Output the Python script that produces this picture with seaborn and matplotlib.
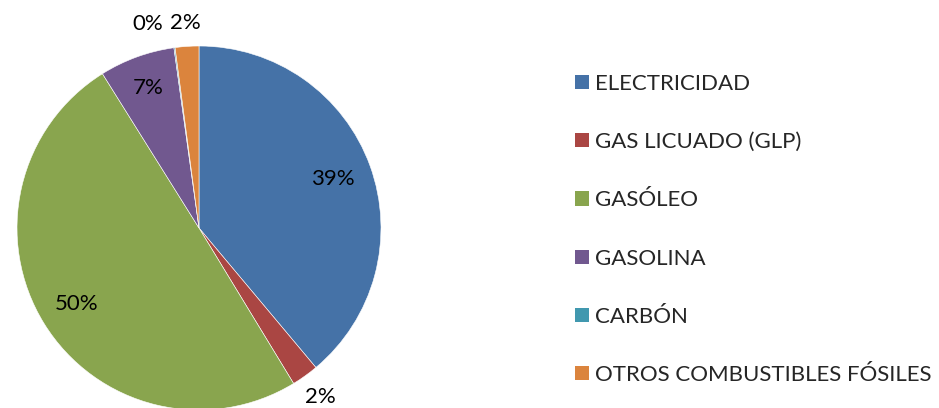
import numpy as np
import seaborn as sns
import matplotlib.pyplot as plt
from matplotlib.patches import Patch

sns.set_style("white")
plt.rcParams['font.family'] = ['Lato', 'DejaVu Sans']

categorias = ['ELECTRICIDAD', 'GAS LICUADO (GLP)', 'GASÓLEO', 'GASOLINA',
              'CARBÓN', 'OTROS COMBUSTIBLES FÓSILES']
porcentajes = [38.9, 2.4, 49.8, 6.7, 0.1, 2.1]
colores = ['#4572A7', '#AA4643', '#89A54E', '#71588F', '#4198AF', '#DB843D']

# distance of each percentage label from the centre (radius units)
dist_etiqueta = [0.78, 1.14, 0.79, 0.82, 1.13, 1.13]

fig = plt.figure(figsize=(9.39, 4.08), dpi=100)
ax = fig.add_axes([17 / 939, -2 / 408, 364 / 939, 364 / 408])

wedges, _ = ax.pie(porcentajes, colors=colores, startangle=90, counterclock=False,
                   wedgeprops={'edgecolor': 'white', 'linewidth': 0.4})
ax.set_xlim(-1, 1)
ax.set_ylim(-1, 1)
ax.set_aspect('equal')
for w in wedges:
    w.set_clip_on(False)

total = sum(porcentajes)
acum = 0.0
for i, v in enumerate(porcentajes):
    mid = (acum + v / 2) / total
    acum += v
    ang = np.deg2rad(90 - mid * 360)
    x = dist_etiqueta[i] * np.cos(ang)
    y = dist_etiqueta[i] * np.sin(ang)
    if categorias[i] == 'CARBÓN':
        x -= 0.13  # nudge to avoid overlap with neighbouring label
    ax.text(x, y, f'{v:.0f}%', ha='center', va='center', fontsize=16,
            color='black', clip_on=False)

handles = [Patch(facecolor=c, edgecolor='none') for c in colores]
fig.legend(handles, categorias, loc='upper left',
           bbox_to_anchor=(566 / 939, 1 - 65 / 408), frameon=False,
           fontsize=16, handlelength=0.62, handleheight=0.62,
           handletextpad=0.3, labelspacing=1.72, borderaxespad=0)

fig.savefig('out.png', dpi=100)
